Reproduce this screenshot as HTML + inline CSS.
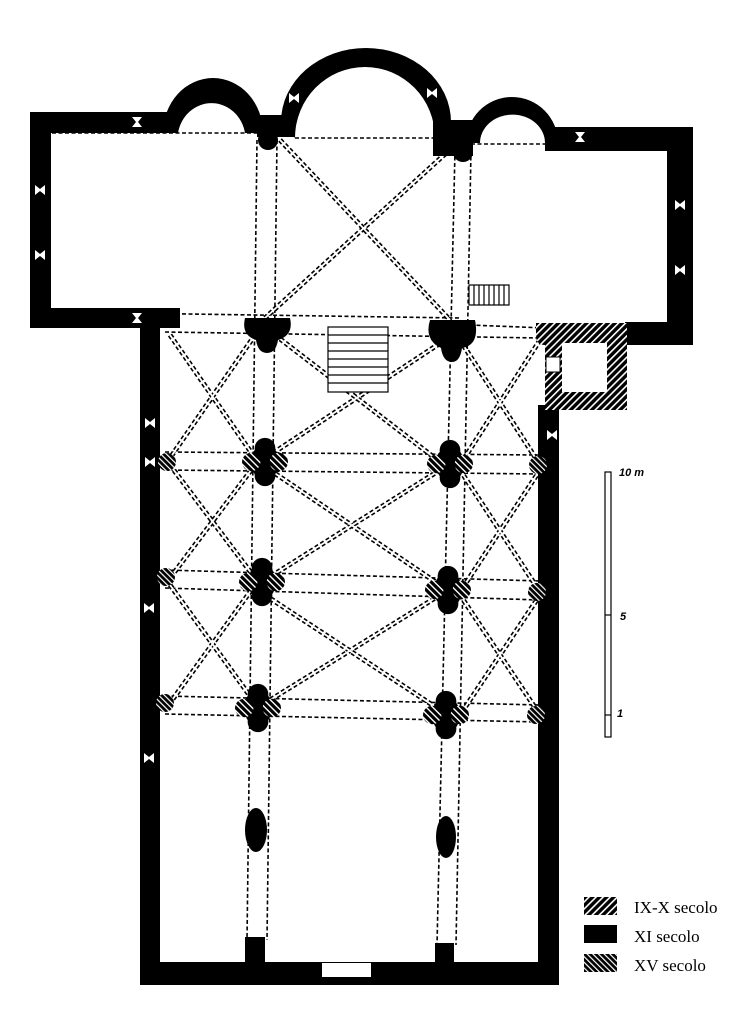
<!DOCTYPE html>
<html><head><meta charset="utf-8"><style>
html,body{margin:0;padding:0;background:#fff;}
svg{display:block;}
</style></head><body>
<svg width="738" height="1024" viewBox="0 0 738 1024" xmlns="http://www.w3.org/2000/svg">
<defs>
<pattern id="h1" width="5" height="5" patternUnits="userSpaceOnUse" patternTransform="rotate(45)">
<rect width="5" height="5" fill="#000"/><rect width="1.6" height="5" fill="#fff"/></pattern>
<pattern id="h2" width="4" height="4" patternUnits="userSpaceOnUse" patternTransform="rotate(-45)">
<rect width="4" height="4" fill="#000"/><rect width="1.2" height="4" fill="#fff"/></pattern>
<g id="diag">
<line x1="280" y1="140" x2="450" y2="320"/><line x1="455" y1="145" x2="265" y2="318"/>
<line x1="275" y1="335" x2="440" y2="462"/><line x1="445" y1="340" x2="270" y2="455"/>
<line x1="270" y1="470" x2="440" y2="585"/><line x1="440" y1="470" x2="265" y2="580"/>
<line x1="265" y1="595" x2="440" y2="710"/><line x1="440" y1="595" x2="262" y2="705"/>
<line x1="170" y1="335" x2="255" y2="458"/><line x1="255" y1="335" x2="170" y2="458"/>
<line x1="170" y1="465" x2="255" y2="578"/><line x1="255" y1="465" x2="170" y2="578"/>
<line x1="170" y1="585" x2="255" y2="703"/><line x1="255" y1="585" x2="170" y2="703"/>
<line x1="460" y1="340" x2="540" y2="465"/><line x1="540" y1="340" x2="460" y2="465"/>
<line x1="460" y1="470" x2="540" y2="592"/><line x1="540" y1="470" x2="460" y2="592"/>
<line x1="460" y1="595" x2="540" y2="715"/><line x1="540" y1="595" x2="460" y2="715"/>
</g>
<g id="pier" transform="scale(1.15)"><circle cx="0" cy="-12" r="9"/><circle cx="0" cy="12" r="9"/><ellipse cx="0" cy="0" rx="12" ry="16"/>
<circle cx="-12" cy="0" r="8" fill="url(#h2)"/><circle cx="12" cy="0" r="8" fill="url(#h2)"/></g>
<g id="win"><polygon points="-5,-5 5,-5 1,0 5,5 -5,5 -1,0" fill="#fff"/></g>
<g id="winh"><polygon points="-5,-5 0,-1 5,-5 5,5 0,1 -5,5" fill="#fff"/></g>
</defs>

<g stroke="#000" stroke-width="1.6" stroke-dasharray="4 2.5" fill="none">
<line x1="257" y1="140" x2="247" y2="940"/><line x1="277" y1="140" x2="267" y2="940"/>
<line x1="455" y1="150" x2="437" y2="945"/><line x1="471" y1="150" x2="456" y2="945"/>
<line x1="52" y1="133" x2="260" y2="133"/><line x1="295" y1="138" x2="435" y2="138"/><line x1="471" y1="144" x2="545" y2="144"/>
<line x1="52" y1="312" x2="460" y2="318"/><line x1="470" y1="325" x2="545" y2="328"/>
<line x1="165" y1="332" x2="540" y2="338"/>
<line x1="165" y1="452" x2="540" y2="455"/><line x1="165" y1="470" x2="540" y2="474"/>
<line x1="165" y1="570" x2="540" y2="581"/><line x1="165" y1="588" x2="540" y2="600"/>
<line x1="165" y1="696" x2="540" y2="705"/><line x1="165" y1="714" x2="540" y2="722"/>
</g>
<use href="#diag" stroke="#000" stroke-width="5" stroke-dasharray="4 2.5" fill="none"/>
<use href="#diag" stroke="#fff" stroke-width="1.8" fill="none"/>

<g fill="#000">
<rect x="30" y="112" width="140" height="21"/>
<rect x="30" y="112" width="21" height="216"/>
<rect x="30" y="308" width="150" height="20"/>
<path d="M163,133 A50,55 0 0 1 263,133 L245,133 A34,36 0 0 0 178,133 Z"/>
<path d="M281,122 A85,74 0 0 1 451,122 L435,137 L435,138 A70,71 0 0 0 295,138 Z"/>
<rect x="257" y="115" width="38" height="22"/>
<circle cx="268" cy="140" r="10"/>
<path d="M466,143 A46,46 0 0 1 558,143 L545,143 A32,28 0 0 0 480,143 Z"/>
<rect x="433" y="120" width="40" height="36"/>
<circle cx="463" cy="152" r="10"/>
<rect x="545" y="127" width="148" height="24"/>
<rect x="667" y="127" width="26" height="218"/>
<rect x="625" y="322" width="68" height="23"/>
<rect x="140" y="318" width="20" height="667"/>
<rect x="538" y="405" width="21" height="580"/>
<rect x="140" y="962" width="419" height="23"/>
<rect x="245" y="937" width="20" height="30"/>
<rect x="435" y="943" width="19" height="25"/>
<ellipse cx="256" cy="830" rx="11" ry="22"/>
<ellipse cx="446" cy="837" rx="10" ry="21"/>
<path d="M245,318 L290,318 Q294,335 278,340 Q276,353 267,353 Q258,353 256,340 Q241,335 245,318 Z"/>
<path d="M430,320 L475,320 Q480,345 462,348 Q460,362 452,362 Q443,362 441,348 Q424,340 430,320 Z"/>
<circle cx="170" cy="318" r="10"/>
</g>
<rect x="322" y="963" width="49" height="14" fill="#fff"/>

<use href="#pier" x="265" y="462"/><use href="#pier" x="450" y="464"/>
<use href="#pier" x="262" y="582"/><use href="#pier" x="448" y="590"/>
<use href="#pier" x="258" y="708"/><use href="#pier" x="446" y="715"/>
<g fill="url(#h2)">
<circle cx="167" cy="462" r="9"/><circle cx="166" cy="577" r="9"/><circle cx="165" cy="703" r="9"/>
<circle cx="538" cy="465" r="9"/><circle cx="537" cy="592" r="9"/><circle cx="536" cy="715" r="9"/>
</g>

<path d="M536,323 L627,323 L627,410 L545,410 L545,345 Q536,345 536,335 Z" fill="url(#h1)"/>
<rect x="562" y="343" width="45" height="49" fill="#fff"/>
<rect x="546" y="357" width="14" height="15" fill="#fff" stroke="#000" stroke-width="1"/>

<g stroke="#000" stroke-width="1.2" fill="#fff">
<rect x="328" y="327" width="60" height="65"/>
<line x1="328" y1="335" x2="388" y2="335"/><line x1="328" y1="343" x2="388" y2="343"/>
<line x1="328" y1="351" x2="388" y2="351"/><line x1="328" y1="359" x2="388" y2="359"/>
<line x1="328" y1="367" x2="388" y2="367"/><line x1="328" y1="375" x2="388" y2="375"/>
<line x1="328" y1="383" x2="388" y2="383"/>
<rect x="469" y="285" width="40" height="20"/>
<line x1="474" y1="285" x2="474" y2="305"/><line x1="479" y1="285" x2="479" y2="305"/>
<line x1="484" y1="285" x2="484" y2="305"/><line x1="489" y1="285" x2="489" y2="305"/>
<line x1="494" y1="285" x2="494" y2="305"/><line x1="499" y1="285" x2="499" y2="305"/>
<line x1="504" y1="285" x2="504" y2="305"/>
</g>

<use href="#win" x="137" y="122"/><use href="#win" x="137" y="318"/><use href="#win" x="580" y="137"/>
<use href="#winh" x="40" y="190"/><use href="#winh" x="40" y="255"/>
<use href="#winh" x="680" y="205"/><use href="#winh" x="680" y="270"/>
<use href="#winh" x="294" y="98"/><use href="#winh" x="432" y="93"/>
<use href="#winh" x="150" y="423"/><use href="#winh" x="150" y="462"/><use href="#winh" x="149" y="608"/><use href="#winh" x="149" y="758"/>
<use href="#winh" x="552" y="435"/>

<g stroke="#000" stroke-width="1.2" fill="#fff">
<rect x="605" y="472" width="6" height="265"/>
<line x1="605" y1="615" x2="611" y2="615"/><line x1="605" y1="715" x2="611" y2="715"/>
</g>
<g font-family="Liberation Sans, sans-serif" font-style="italic" font-weight="bold" font-size="11">
<text x="619" y="476">10 m</text><text x="620" y="620">5</text><text x="617" y="717">1</text>
</g>

<rect x="584" y="897" width="33" height="18" fill="url(#h1)"/>
<rect x="584" y="925" width="33" height="18" fill="#000"/>
<rect x="584" y="954" width="33" height="18" fill="url(#h2)"/>
<g font-family="Liberation Serif, serif" font-size="17" fill="#000">
<text x="634" y="913">IX-X secolo</text>
<text x="634" y="942">XI secolo</text>
<text x="634" y="971">XV secolo</text>
</g>
</svg>
</body></html>
